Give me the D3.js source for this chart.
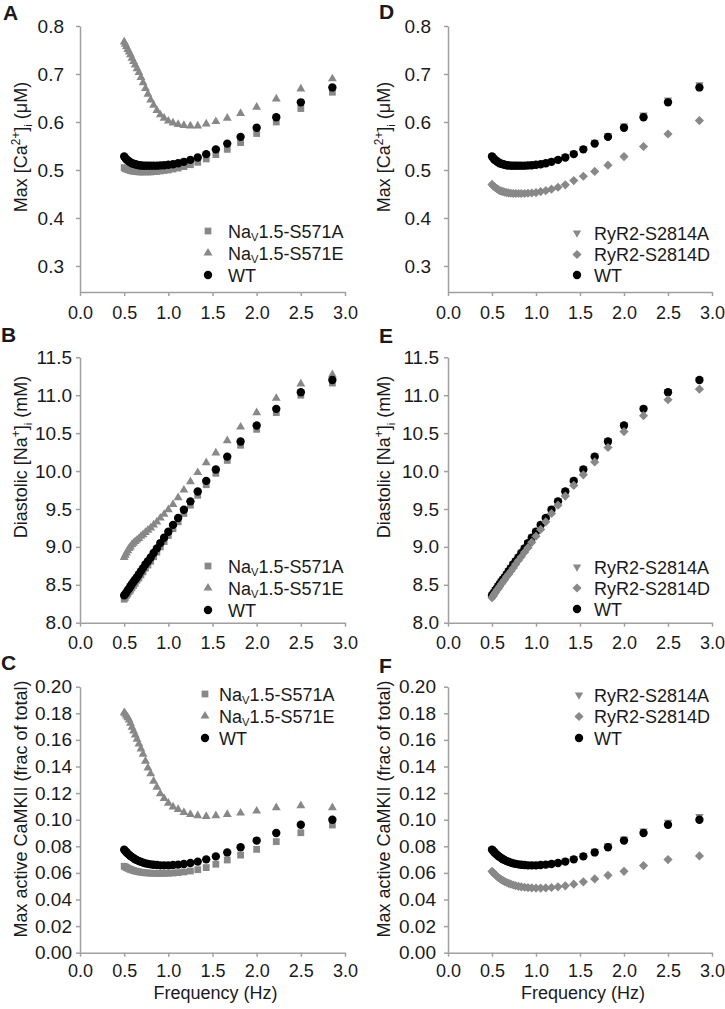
<!DOCTYPE html>
<html><head><meta charset="utf-8">
<script src="https://cdn.jsdelivr.net/npm/d3@7"></script>
<style>
body{margin:0;background:#fff}
svg{display:block}
text{font-family:"Liberation Sans",Arial,Helvetica,sans-serif;fill:#1a1a1a}
</style>
</head><body><svg id="c" width="725" height="1009"></svg>
<script>
// ---------- DATA ----------
const freq = [0.500,0.513,0.526,0.541,0.556,0.571,0.588,0.606,0.625,0.645,0.667,0.690,0.714,0.741,0.769,0.800,0.833,0.870,0.909,0.952,1.000,1.053,1.111,1.176,1.250,1.333,1.429,1.538,1.667,1.818,2.000,2.222,2.500,2.857];

const caMax_WT    = [0.528,0.525,0.522,0.520,0.518,0.516,0.514,0.513,0.512,0.511,0.510,0.5095,0.509,0.509,0.509,0.509,0.509,0.509,0.5095,0.510,0.511,0.512,0.514,0.517,0.521,0.526,0.533,0.543,0.555,0.569,0.588,0.610,0.641,0.672];
const caMax_S571A = [0.505,0.503,0.502,0.501,0.500,0.499,0.498,0.4975,0.497,0.4965,0.496,0.496,0.496,0.496,0.496,0.496,0.4965,0.497,0.498,0.499,0.500,0.502,0.504,0.507,0.511,0.516,0.523,0.532,0.543,0.557,0.576,0.600,0.628,0.662];
const caMax_S571E = [0.767,0.762,0.757,0.751,0.746,0.740,0.733,0.726,0.719,0.711,0.703,0.693,0.682,0.670,0.658,0.646,0.635,0.624,0.615,0.608,0.602,0.598,0.595,0.593,0.592,0.592,0.596,0.601,0.608,0.618,0.631,0.648,0.669,0.690];
const caMax_S2814A = [0.529,0.526,0.523,0.521,0.519,0.517,0.515,0.514,0.513,0.512,0.511,0.510,0.510,0.510,0.510,0.510,0.510,0.510,0.510,0.511,0.512,0.513,0.515,0.518,0.522,0.528,0.535,0.545,0.558,0.572,0.592,0.615,0.646,0.678];
const caMax_S2814D = [0.470,0.467,0.465,0.463,0.461,0.459,0.457,0.456,0.455,0.454,0.453,0.452,0.4515,0.451,0.451,0.451,0.451,0.451,0.4515,0.452,0.453,0.455,0.457,0.460,0.464,0.469,0.478,0.487,0.497,0.510,0.528,0.549,0.575,0.603];

const na_WT    = [8.36,8.38,8.40,8.43,8.45,8.48,8.51,8.54,8.57,8.60,8.64,8.68,8.72,8.77,8.81,8.86,8.92,8.98,9.05,9.12,9.20,9.29,9.38,9.49,9.60,9.73,9.87,10.02,10.19,10.39,10.60,10.82,11.04,11.20];
const na_S571A = [8.31,8.33,8.36,8.38,8.41,8.43,8.46,8.49,8.52,8.56,8.59,8.63,8.67,8.72,8.76,8.81,8.87,8.93,9.00,9.07,9.15,9.24,9.33,9.44,9.55,9.68,9.82,9.97,10.14,10.34,10.55,10.77,11.00,11.16];
const na_S571E = [8.86,8.89,8.92,8.95,8.98,9.00,9.03,9.05,9.07,9.09,9.11,9.14,9.16,9.19,9.22,9.25,9.29,9.33,9.38,9.43,9.49,9.56,9.65,9.75,9.86,9.98,10.11,10.24,10.40,10.58,10.77,10.96,11.15,11.27];
const na_S2814A = [8.37,8.39,8.41,8.44,8.46,8.49,8.52,8.55,8.58,8.61,8.65,8.69,8.73,8.78,8.82,8.87,8.93,8.99,9.06,9.13,9.21,9.30,9.39,9.50,9.61,9.74,9.88,10.03,10.20,10.40,10.61,10.83,11.05,11.21];
const na_S2814D = [8.33,8.35,8.38,8.40,8.43,8.45,8.48,8.51,8.54,8.57,8.61,8.64,8.68,8.72,8.77,8.82,8.87,8.93,8.99,9.06,9.14,9.23,9.33,9.44,9.55,9.67,9.81,9.95,10.12,10.31,10.52,10.73,10.94,11.08];

const camk_WT    = [0.0775,0.0765,0.0755,0.0745,0.0736,0.0727,0.0719,0.0711,0.0703,0.0696,0.0689,0.0683,0.0677,0.0672,0.0668,0.0664,0.0661,0.0659,0.0657,0.0657,0.0657,0.0659,0.0662,0.0667,0.0674,0.0685,0.0702,0.0724,0.0754,0.0793,0.0843,0.0900,0.0962,0.1000];
const camk_S571A = [0.0650,0.0645,0.0640,0.0635,0.0630,0.0626,0.0622,0.0618,0.0614,0.0611,0.0608,0.0605,0.0603,0.0601,0.0599,0.0598,0.0597,0.0596,0.0596,0.0596,0.0597,0.0599,0.0602,0.0607,0.0614,0.0624,0.0640,0.0665,0.0697,0.0734,0.0777,0.0835,0.0902,0.0960];
const camk_S571E = [0.1805,0.1795,0.1780,0.1767,0.1750,0.1725,0.1695,0.1667,0.1638,0.1605,0.1570,0.1532,0.1493,0.1440,0.1390,0.1345,0.1290,0.1245,0.1195,0.1160,0.1125,0.1096,0.1077,0.1055,0.1040,0.1030,0.1025,0.1030,0.1040,0.1050,0.1065,0.1090,0.1105,0.1090];
const camk_S2814A = [0.0778,0.0768,0.0758,0.0748,0.0739,0.0730,0.0722,0.0714,0.0706,0.0699,0.0692,0.0686,0.0680,0.0675,0.0671,0.0667,0.0664,0.0662,0.0660,0.0660,0.0661,0.0663,0.0666,0.0671,0.0679,0.0691,0.0709,0.0732,0.0763,0.0804,0.0856,0.0915,0.0982,0.1025];
const camk_S2814D = [0.0612,0.0602,0.0593,0.0584,0.0575,0.0566,0.0558,0.0550,0.0542,0.0535,0.0528,0.0521,0.0515,0.0509,0.0504,0.0499,0.0495,0.0492,0.0489,0.0487,0.0486,0.0486,0.0487,0.0490,0.0495,0.0503,0.0515,0.0533,0.0555,0.0582,0.0612,0.0655,0.0700,0.0728];

const xTicks = [0.0,0.5,1.0,1.5,2.0,2.5,3.0];
const caTicks = [0.3,0.4,0.5,0.6,0.7,0.8];
const naTicks = [8.0,8.5,9.0,9.5,10.0,10.5,11.0,11.5];
const camkTicks = [0.00,0.02,0.04,0.06,0.08,0.10,0.12,0.14,0.16,0.18,0.20];

const seriesNames = {S571A:"1.5-S571A", S571E:"1.5-S571E", S2814A:"RyR2-S2814A", S2814D:"RyR2-S2814D", WT:"WT"};

// ---------- STYLE ----------
const GRAY = "#888888", BLACK = "#000000", AXIS = "#a0a0a0";
const FS = 18, TFS = 19, XFS = 18;
const svg = d3.select("#c");

const sym = {
  square:  {type:d3.symbolSquare, size:46, rot:0},
  triangle:{type:d3.symbolTriangle, size:34, rot:0},
  invtri:  {type:d3.symbolTriangle, size:30, rot:180},
  diamond: {type:d3.symbolSquare, size:42, rot:45},
  circle:  {type:d3.symbolCircle, size:55, rot:0}
};

function rich(textSel, parts, fs, subK){
  let shift = 0;
  const sk = subK === undefined ? 0.28 : subK;
  parts.forEach(p=>{
    const ts = textSel.append("tspan").text(p.t);
    let target = 0, size = fs;
    if(p.sup){ target = -0.38*fs; size = fs*0.66; }
    if(p.sub){ target = sk*fs; size = fs*0.62; }
    ts.attr("font-size", size);
    if(target !== shift){ ts.attr("dy", target - shift); shift = target; }
  });
}

const naLabel = n => [{t:"Na"},{t:"V",sub:true},{t:n}];

const panels = [
 {letter:"A", lx:3, ly:20, x0:80, x1:345, yTop:26, yBot:292, dom:[0.2458,0.8], ticks:caTicks, fmt:".1f", pad:12, xpad:10,
  series:[{d:caMax_S571A,s:"square",c:GRAY},{d:caMax_S571E,s:"triangle",c:GRAY},{d:caMax_WT,s:"circle",c:BLACK}],
  legend:{mx:208,tx:228,rows:[231,253,275],items:[["square",GRAY,naLabel(seriesNames.S571A)],["triangle",GRAY,naLabel(seriesNames.S571E)],["circle",BLACK,[{t:"WT"}]]]},
  ylab:[{t:"Max [Ca"},{t:"2+",sup:true},{t:"]"},{t:"i",sub:true},{t:" (μM)"}], ylx:27, yly:147},
 {letter:"B", lx:1, ly:342, x0:80, x1:345, yTop:357.3, yBot:622.7, dom:[8.0,11.5], ticks:naTicks, fmt:".1f", pad:4, xpad:10,
  series:[{d:na_S571A,s:"square",c:GRAY},{d:na_S571E,s:"triangle",c:GRAY},{d:na_WT,s:"circle",c:BLACK}],
  legend:{mx:208,tx:228,rows:[566,588,610],items:[["square",GRAY,naLabel(seriesNames.S571A)],["triangle",GRAY,naLabel(seriesNames.S571E)],["circle",BLACK,[{t:"WT"}]]]},
  ylab:[{t:"Diastolic [Na"},{t:"+",sup:true},{t:"]"},{t:"i",sub:true},{t:" (mM)"}], ylx:27, yly:457},
 {letter:"C", lx:1, ly:670, x0:80, x1:345, yTop:686.7, yBot:952.7, dom:[0,0.2], ticks:camkTicks, fmt:".2f", pad:4, xpad:8,
  series:[{d:camk_S571A,s:"square",c:GRAY},{d:camk_S571E,s:"triangle",c:GRAY},{d:camk_WT,s:"circle",c:BLACK}],
  legend:{mx:205,tx:219,rows:[694,716,738],items:[["square",GRAY,naLabel(seriesNames.S571A)],["triangle",GRAY,naLabel(seriesNames.S571E)],["circle",BLACK,[{t:"WT"}]]]},
  ylab:[{t:"Max active CaMKII (frac of total)"}], ylx:27, yly:809, xtitle:true},
 {letter:"D", lx:379, ly:19, x0:448, x1:712, yTop:26, yBot:292, dom:[0.2458,0.8], ticks:caTicks, fmt:".1f", pad:13, xpad:10,
  series:[{d:caMax_S2814A,s:"invtri",c:GRAY},{d:caMax_WT,s:"circle",c:BLACK},{d:caMax_S2814D,s:"diamond",c:GRAY}],
  legend:{mx:577,tx:594,rows:[233,254.5,275],items:[["invtri",GRAY,[{t:seriesNames.S2814A}]],["diamond",GRAY,[{t:seriesNames.S2814D}]],["circle",BLACK,[{t:"WT"}]]]},
  ylab:[{t:"Max [Ca"},{t:"2+",sup:true},{t:"]"},{t:"i",sub:true},{t:" (μM)"}], ylx:390, yly:147},
 {letter:"E", lx:379, ly:343, x0:448, x1:712, yTop:357.3, yBot:622.7, dom:[8.0,11.5], ticks:naTicks, fmt:".1f", pad:5, xpad:10,
  series:[{d:na_S2814A,s:"invtri",c:GRAY},{d:na_WT,s:"circle",c:BLACK},{d:na_S2814D,s:"diamond",c:GRAY}],
  legend:{mx:577,tx:594,rows:[567,588,609],items:[["invtri",GRAY,[{t:seriesNames.S2814A}]],["diamond",GRAY,[{t:seriesNames.S2814D}]],["circle",BLACK,[{t:"WT"}]]]},
  ylab:[{t:"Diastolic [Na"},{t:"+",sup:true},{t:"]"},{t:"i",sub:true},{t:" (mM)"}], ylx:390, yly:457},
 {letter:"F", lx:379, ly:673, x0:448, x1:712, yTop:686.7, yBot:952.7, dom:[0,0.2], ticks:camkTicks, fmt:".2f", pad:8, xpad:8,
  series:[{d:camk_S2814A,s:"invtri",c:GRAY},{d:camk_WT,s:"circle",c:BLACK},{d:camk_S2814D,s:"diamond",c:GRAY}],
  legend:{mx:579,tx:594,rows:[695,716.5,738],items:[["invtri",GRAY,[{t:seriesNames.S2814A}]],["diamond",GRAY,[{t:seriesNames.S2814D}]],["circle",BLACK,[{t:"WT"}]]]},
  ylab:[{t:"Max active CaMKII (frac of total)"}], ylx:390, yly:809, xtitle:true}
];

function symPath(k){ return d3.symbol().type(sym[k].type).size(sym[k].size)(); }

panels.forEach(p=>{
  const g = svg.append("g");
  const x = d3.scaleLinear().domain([0,3]).range([p.x0,p.x1]);
  const y = d3.scaleLinear().domain(p.dom).range([p.yBot,p.yTop]);

  // axes
  const ya = g.append("g").attr("transform",`translate(${p.x0},0)`)
    .call(d3.axisLeft(y).tickValues(p.ticks).tickFormat(d3.format(p.fmt)).tickSize(4).tickSizeOuter(0).tickPadding(p.pad));
  const xa = g.append("g").attr("transform",`translate(0,${p.yBot})`)
    .call(d3.axisBottom(x).tickValues(xTicks).tickFormat(d3.format(".1f")).tickSize(4).tickSizeOuter(0).tickPadding(p.xpad));
  [ya,xa].forEach(a=>{
    a.select(".domain").attr("stroke",AXIS).attr("stroke-width",1.5);
    a.selectAll(".tick line").attr("stroke",AXIS).attr("stroke-width",1.5);
    a.selectAll(".tick text").attr("fill","#1a1a1a")
      .attr("font-family",'"Liberation Sans",Arial,sans-serif');
  });
  ya.selectAll(".tick text").attr("font-size",TFS);
  xa.selectAll(".tick text").attr("font-size",XFS);

  // series
  p.series.forEach(s=>{
    g.append("g").selectAll("path").data(freq.map((f,i)=>[f,s.d[i]])).join("path")
      .attr("d",symPath(s.s))
      .attr("transform",d=>`translate(${x(d[0])},${y(d[1])}) rotate(${sym[s.s].rot})`)
      .attr("fill",s.c);
  });

  // legend
  p.legend.items.forEach((it,i)=>{
    const ry = p.legend.rows[i];
    g.append("path").attr("d",symPath(it[0]))
      .attr("transform",`translate(${p.legend.mx},${ry}) rotate(${sym[it[0]].rot})`).attr("fill",it[1]);
    const t = g.append("text").attr("x",p.legend.tx).attr("y",ry+6.5).attr("font-size",FS);
    rich(t,it[2],FS,0.17);
  });

  // y label
  const yl = g.append("text").attr("transform",`translate(${p.ylx},${p.yly}) rotate(-90)`)
    .attr("text-anchor","middle").attr("font-size",FS);
  rich(yl,p.ylab,FS);

  // x title
  if(p.xtitle){
    g.append("text").attr("x",(p.x0+p.x1)/2+3).attr("y",998.5).attr("text-anchor","middle")
      .attr("font-size",FS).text("Frequency (Hz)");
  }

  // panel letter
  g.append("text").attr("x",p.lx).attr("y",p.ly).attr("font-size",21).attr("font-weight","bold")
    .attr("fill","#000").text(p.letter);
});
</script></body></html>
